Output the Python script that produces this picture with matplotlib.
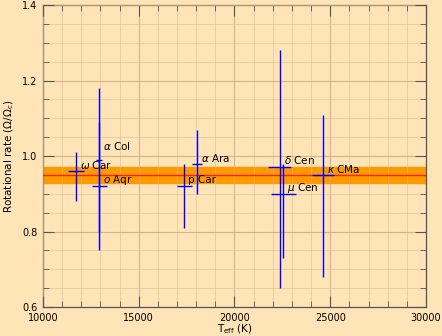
import numpy as np
import matplotlib
matplotlib.use("Agg")
import matplotlib.pyplot as plt
from matplotlib.ticker import MultipleLocator

# star data
stars = [r'$\omega$ Car', r'$\alpha$ Col', r'$o$ Aqr', 'p Car',
         r'$\alpha$ Ara', r'$\delta$ Cen', r'$\mu$ Cen', r'$\kappa$ CMa']
teff = [11720, 12940, 12940, 17370, 18040, 22360, 22550, 24620]
teff_err = [430, 170, 390, 390, 280, 590, 650, 590]
omega = [0.96, 0.99, 0.92, 0.92, 0.98, 0.97, 0.90, 0.95]
omega_lo = [0.08, 0.19, 0.17, 0.11, 0.08, 0.32, 0.17, 0.27]
omega_hi = [0.05, 0.19, 0.17, 0.06, 0.09, 0.31, 0.08, 0.16]

mean_rate = 0.95
mean_band = (0.93, 0.97)

# label offsets (pixels) from each cross
lab_dy = [6, 14, 6, 6, 6, 7, 6, 6]

bg = '#ffe4b8'
plt.rcParams['font.family'] = 'DejaVu Sans'
plt.rcParams['font.size'] = 7

fig = plt.figure(figsize=(4.42, 3.36), dpi=100, facecolor=bg)
ax = fig.add_axes([0.097, 0.086, 0.867, 0.899])
ax.set_facecolor(bg)

ax.axhspan(mean_band[0], mean_band[1], color='#ff9900', zorder=1)
ax.axhline(mean_rate, color='#ff2000', lw=1.0, zorder=4)

ax.set_xlim(10000, 30000)
ax.set_ylim(0.6, 1.4)
ax.xaxis.set_major_locator(MultipleLocator(5000))
ax.xaxis.set_minor_locator(MultipleLocator(1000))
ax.yaxis.set_major_locator(MultipleLocator(0.2))
ax.yaxis.set_minor_locator(MultipleLocator(0.05))
ax.grid(which='major', color='#c8aa80', alpha=0.8, lw=0.8, zorder=3)
ax.grid(which='minor', color='#d8bc90', alpha=0.6, lw=0.6, zorder=3)
ax.set_axisbelow(False)
ax.tick_params(which='both', direction='in', top=True, right=True,
               color='#555555', labelsize=7, pad=4)
ax.tick_params(which='major', length=8, width=0.8)
ax.tick_params(which='minor', length=4, width=0.6)
for s in ax.spines.values():
    s.set_color('#555555')
    s.set_linewidth(0.9)

ax.errorbar(teff, omega, xerr=teff_err, yerr=[omega_lo, omega_hi],
            fmt='none', ecolor='#0000ff', elinewidth=1.0, capsize=0, zorder=5)

for name, x, y, dy in zip(stars, teff, omega, lab_dy):
    ax.annotate(name, (x, y), xytext=(4, dy), textcoords='offset pixels',
                ha='left', va='center', fontsize=7.5, color='black', zorder=6)

ax.set_xlabel(r'T$_{\rm eff}$ (K)', fontsize=7.5, labelpad=0)
ax.set_ylabel(r'Rotational rate ($\Omega/\Omega_{\rm c}$)', fontsize=7.5, labelpad=4)

fig.savefig('out.png', dpi=100, facecolor=bg)
